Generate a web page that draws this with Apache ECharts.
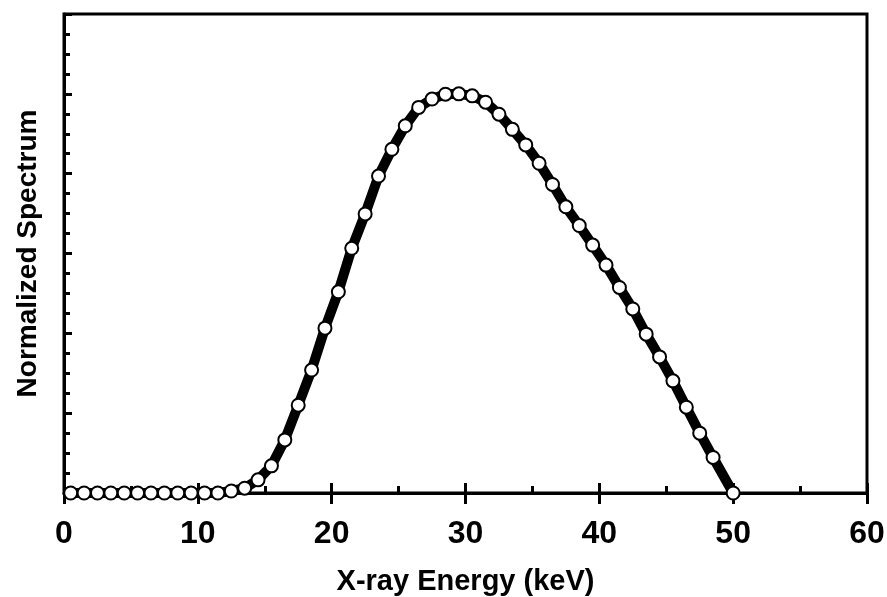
<!DOCTYPE html>
<html>
<head>
<meta charset="utf-8">
<script src="https://cdn.jsdelivr.net/npm/echarts@6/dist/echarts.min.js"></script>
<style>
html,body{margin:0;padding:0;background:#fff;}
#chart{width:887px;height:597px;}
</style>
</head>
<body>
<div id="chart"></div>
<script>
var energies = [0.5,1.5,2.5,3.5,4.5,5.5,6.5,7.5,8.5,9.5,10.5,11.5,12.5,13.5,14.5,15.5,16.5,17.5,18.5,19.5,
  20.5,21.5,22.5,23.5,24.5,25.5,26.5,27.5,28.5,29.5,30.5,31.5,32.5,33.5,34.5,35.5,36.5,37.5,38.5,39.5,
  40.5,41.5,42.5,43.5,44.5,45.5,46.5,47.5,48.5,50];
var spectrum = [0,0,0,0,0,0,0,0,0,0,0,0,0.005,0.012,0.033,0.068,0.133,0.22,0.308,0.413,
  0.504,0.613,0.699,0.794,0.861,0.920,0.966,0.987,0.999,1.0,0.995,0.979,0.949,0.911,0.872,0.826,0.773,0.717,0.670,0.621,
  0.571,0.515,0.461,0.398,0.341,0.281,0.215,0.150,0.089,0];
var xTickLabels = ['0','10','20','30','40','50','60'];
var xTitle = 'X-ray Energy (keV)';
var yTitle = 'Normalized Spectrum';

var pts = energies.map(function(e,i){return [e, spectrum[i]];});
var font = '"Liberation Sans", Arial, sans-serif';
var chart = echarts.init(document.getElementById('chart'), null, {renderer:'canvas'});
chart.setOption({
  animation:false,
  backgroundColor:'#fff',
  grid:{left:64, top:14, right:20, bottom:104, show:true, borderColor:'#000', borderWidth:3, containLabel:false, outerBoundsMode:'none'},
  xAxis:[{
    type:'value', min:0, max:60, interval:10, position:'bottom',
    axisLine:{show:true, onZero:false, lineStyle:{color:'#000', width:3}},
    axisTick:{show:true, inside:true, length:10, lineStyle:{color:'#000', width:3}},
    minorTick:{show:true, splitNumber:2, length:7, lineStyle:{color:'#000', width:3}},
    splitLine:{show:false},
    axisLabel:{show:true, margin:25, color:'#000', fontFamily:font, fontWeight:'bold', fontSize:32,
      formatter:function(v){return xTickLabels[Math.round(v/10)];}},
    name:xTitle, nameLocation:'middle', nameGap:74,
    nameTextStyle:{color:'#000', fontFamily:font, fontWeight:'bold', fontSize:29}
  },{
    type:'value', min:0, max:60, interval:10, position:'bottom',
    axisLine:{show:false},
    axisTick:{show:true, inside:false, length:11, lineStyle:{color:'#000', width:3}},
    splitLine:{show:false},
    axisLabel:{show:false}
  }],
  yAxis:{
    type:'value', min:0, max:1.2, interval:0.2,
    axisLine:{show:true, lineStyle:{color:'#000', width:3}},
    axisTick:{show:true, inside:true, length:8, lineStyle:{color:'#000', width:3}},
    minorTick:{show:true, splitNumber:4, length:6, lineStyle:{color:'#000', width:3}},
    splitLine:{show:false},
    axisLabel:{show:false},
    name:yTitle, nameLocation:'middle', nameGap:22, nameRotate:90,
    nameTextStyle:{color:'#000', fontFamily:font, fontWeight:'bold', fontSize:28}
  },
  series:[{
    type:'line', xAxisIndex:0, data:pts, smooth:false,
    lineStyle:{color:'#000', width:10, join:'round', cap:'round'},
    symbol:'circle', symbolSize:13, showSymbol:true,
    itemStyle:{color:'#fff', borderColor:'#000', borderWidth:2},
    emphasis:{disabled:true}
  }]
});
</script>
</body>
</html>
